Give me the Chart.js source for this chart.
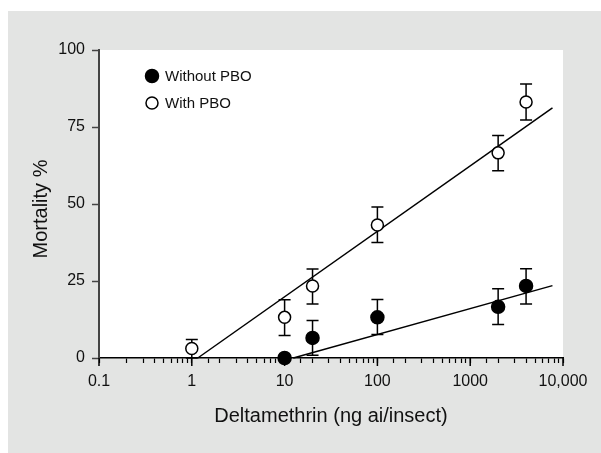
<!DOCTYPE html>
<html>
<head>
<meta charset="utf-8">
<script src="https://cdn.jsdelivr.net/npm/chart.js@4/dist/chart.umd.min.js"></script>
<style>
  body { margin: 0; background: #fff; }
  #wrap { width: 601px; height: 453px; position: relative; }
</style>
</head>
<body>
<div id="wrap"><canvas id="mortChart"></canvas></div>
<script>
// data
const withoutDose = [10, 20, 100, 2000, 4000];
const withoutMort = [0, 6.5, 13.2, 16.6, 23.4];
const withoutLow = [null, 0.9, 7.6, 10.9, 17.5];
const withoutHigh = [null, 12.2, 19, 22.5, 29];

const withDose = [1, 10, 20, 100, 2000, 4000];
const withMort = [3.1, 13.2, 23.4, 43.2, 66.6, 83.1];
const withLow = [0, 7.3, 17.5, 37.5, 60.8, 77.3];
const withHigh = [6.0, 18.9, 28.9, 49, 72.2, 89];

// regression lines (end points)
const withFitX = [1.16, 7700];
const withFitY = [0, 81.2];
const withoutFitX = [12.4, 7700];
const withoutFitY = [0, 23.5];

const xTickValues = [0.1, 1, 10, 100, 1000, 10000];
const xTickLabels = ['0.1', '1', '10', '100', '1000', '10,000'];
const yTickValues = [0, 25, 50, 75, 100];
const seriesNames = ['Without PBO', 'With PBO'];
const yTitle = 'Mortality %';

const FONT = "'Liberation Sans', Arial, sans-serif";

function pts(xs, ys) {
    return xs.map((x, i) => ({ x: x, y: ys[i] }));
}

// gray panel + white plot area
const backdrop = {
    id: 'backdrop',
    beforeDraw(chart) {
        const { ctx, chartArea: a } = chart;
        ctx.save();
        ctx.fillStyle = '#e3e4e3';
        ctx.fillRect(8, 11, 593, 442);
        ctx.fillStyle = '#fff';
        ctx.fillRect(a.left, a.top, a.right - a.left, a.bottom - a.top);
        ctx.restore();
    }
};

// error bars with caps
const errorBars = {
    id: 'errorBars',
    beforeDatasetsDraw(chart) {
        const { ctx, scales: { x, y } } = chart;
        const sets = [[withoutDose, withoutLow, withoutHigh], [withDose, withLow, withHigh]];
        ctx.save();
        ctx.strokeStyle = '#000';
        ctx.lineWidth = 1.5;
        sets.forEach(([dose, low, high]) => {
            dose.forEach((d, i) => {
                if (low[i] === null) return;
                const px = x.getPixelForValue(d);
                const y1 = y.getPixelForValue(low[i]);
                const y2 = y.getPixelForValue(high[i]);
                ctx.beginPath();
                ctx.moveTo(px, y1); ctx.lineTo(px, y2);
                ctx.moveTo(px - 6, y1); ctx.lineTo(px + 6, y1);
                ctx.moveTo(px - 6, y2); ctx.lineTo(px + 6, y2);
                ctx.stroke();
            });
        });
        ctx.restore();
    }
};

// longer tick marks at each decade, y title and legend
const extras = {
    id: 'extras',
    afterDraw(chart) {
        const { ctx, scales: { x, y } } = chart;
        ctx.save();
        ctx.strokeStyle = '#000';
        ctx.lineWidth = 1.5;
        xTickValues.forEach(v => {
            const px = x.getPixelForValue(v);
            ctx.beginPath();
            ctx.moveTo(px, y.bottom);
            ctx.lineTo(px, y.bottom + 8);
            ctx.stroke();
        });

        // y axis title, a bit below the plot middle like the original
        ctx.save();
        ctx.translate(41, 209);
        ctx.rotate(-Math.PI / 2);
        ctx.font = '20px ' + FONT;
        ctx.fillStyle = '#111';
        ctx.textAlign = 'center';
        ctx.textBaseline = 'middle';
        ctx.fillText(yTitle, 0, 0);
        ctx.restore();

        // legend
        const lx = 152, ly = [76, 103];
        ctx.font = '15px ' + FONT;
        ctx.textBaseline = 'middle';
        seriesNames.forEach((name, i) => {
            ctx.beginPath();
            ctx.arc(lx, ly[i], i === 0 ? 6.5 : 6, 0, Math.PI * 2);
            ctx.fillStyle = i === 0 ? '#000' : '#fff';
            ctx.fill();
            ctx.lineWidth = 1.5;
            ctx.strokeStyle = '#000';
            ctx.stroke();
            ctx.fillStyle = '#111';
            ctx.fillText(name, lx + 13, ly[i] + 1);
        });
        ctx.restore();
    }
};

const ctx = document.getElementById('mortChart').getContext('2d');
new Chart(ctx, {
    type: 'scatter',
    data: {
        datasets: [
            {
                label: seriesNames[0],
                data: pts(withoutDose, withoutMort),
                pointRadius: 6.5,
                pointBackgroundColor: '#000',
                pointBorderColor: '#000',
                pointBorderWidth: 1.5,
                clip: false,
                order: 0
            },
            {
                label: seriesNames[1],
                data: pts(withDose, withMort),
                pointRadius: 6,
                pointBackgroundColor: '#fff',
                pointBorderColor: '#000',
                pointBorderWidth: 1.5,
                clip: false,
                order: 0
            },
            {
                type: 'line',
                label: 'fit without',
                data: pts(withoutFitX, withoutFitY),
                borderColor: '#000',
                borderWidth: 1.5,
                pointRadius: 0,
                fill: false,
                clip: false,
                order: 1
            },
            {
                type: 'line',
                label: 'fit with',
                data: pts(withFitX, withFitY),
                borderColor: '#000',
                borderWidth: 1.5,
                pointRadius: 0,
                fill: false,
                clip: false,
                order: 1
            }
        ]
    },
    options: {
        responsive: true,
        maintainAspectRatio: false,
        animation: false,
        layout: { padding: { left: 0, top: 50, right: 38, bottom: 0 } },
        plugins: {
            legend: { display: false },
            tooltip: { enabled: false }
        },
        scales: {
            x: {
                type: 'logarithmic',
                min: 0.1,
                max: 10000,
                border: { color: '#000', width: 1.5 },
                grid: { drawOnChartArea: false, tickLength: 5, tickColor: '#000', tickWidth: 1.2 },
                ticks: {
                    autoSkip: false,
                    maxRotation: 0,
                    minRotation: 0,
                    padding: 9,
                    color: '#111',
                    font: { family: FONT, size: 16 },
                    callback: function (value) {
                        const i = xTickValues.findIndex(v => Math.abs(Math.log10(v) - Math.log10(value)) < 1e-6);
                        return i >= 0 ? xTickLabels[i] : '';
                    }
                },
                title: {
                    display: true,
                    text: 'Deltamethrin (ng ai/insect)',
                    color: '#111',
                    font: { family: FONT, size: 20 },
                    padding: { top: 0, bottom: 25 }
                },
                afterFit: s => { s.height = 95; }
            },
            y: {
                min: 0,
                max: 100,
                border: { color: '#444', width: 2 },
                grid: { drawOnChartArea: false, tickLength: 7, tickColor: '#444', tickWidth: 1.5 },
                afterBuildTicks: s => { s.ticks = yTickValues.map(v => ({ value: v })); },
                ticks: {
                    padding: 7,
                    color: '#111',
                    font: { family: FONT, size: 16 }
                },
                afterFit: s => { s.width = 99; }
            }
        }
    },
    plugins: [backdrop, errorBars, extras]
});
</script>
</body>
</html>
